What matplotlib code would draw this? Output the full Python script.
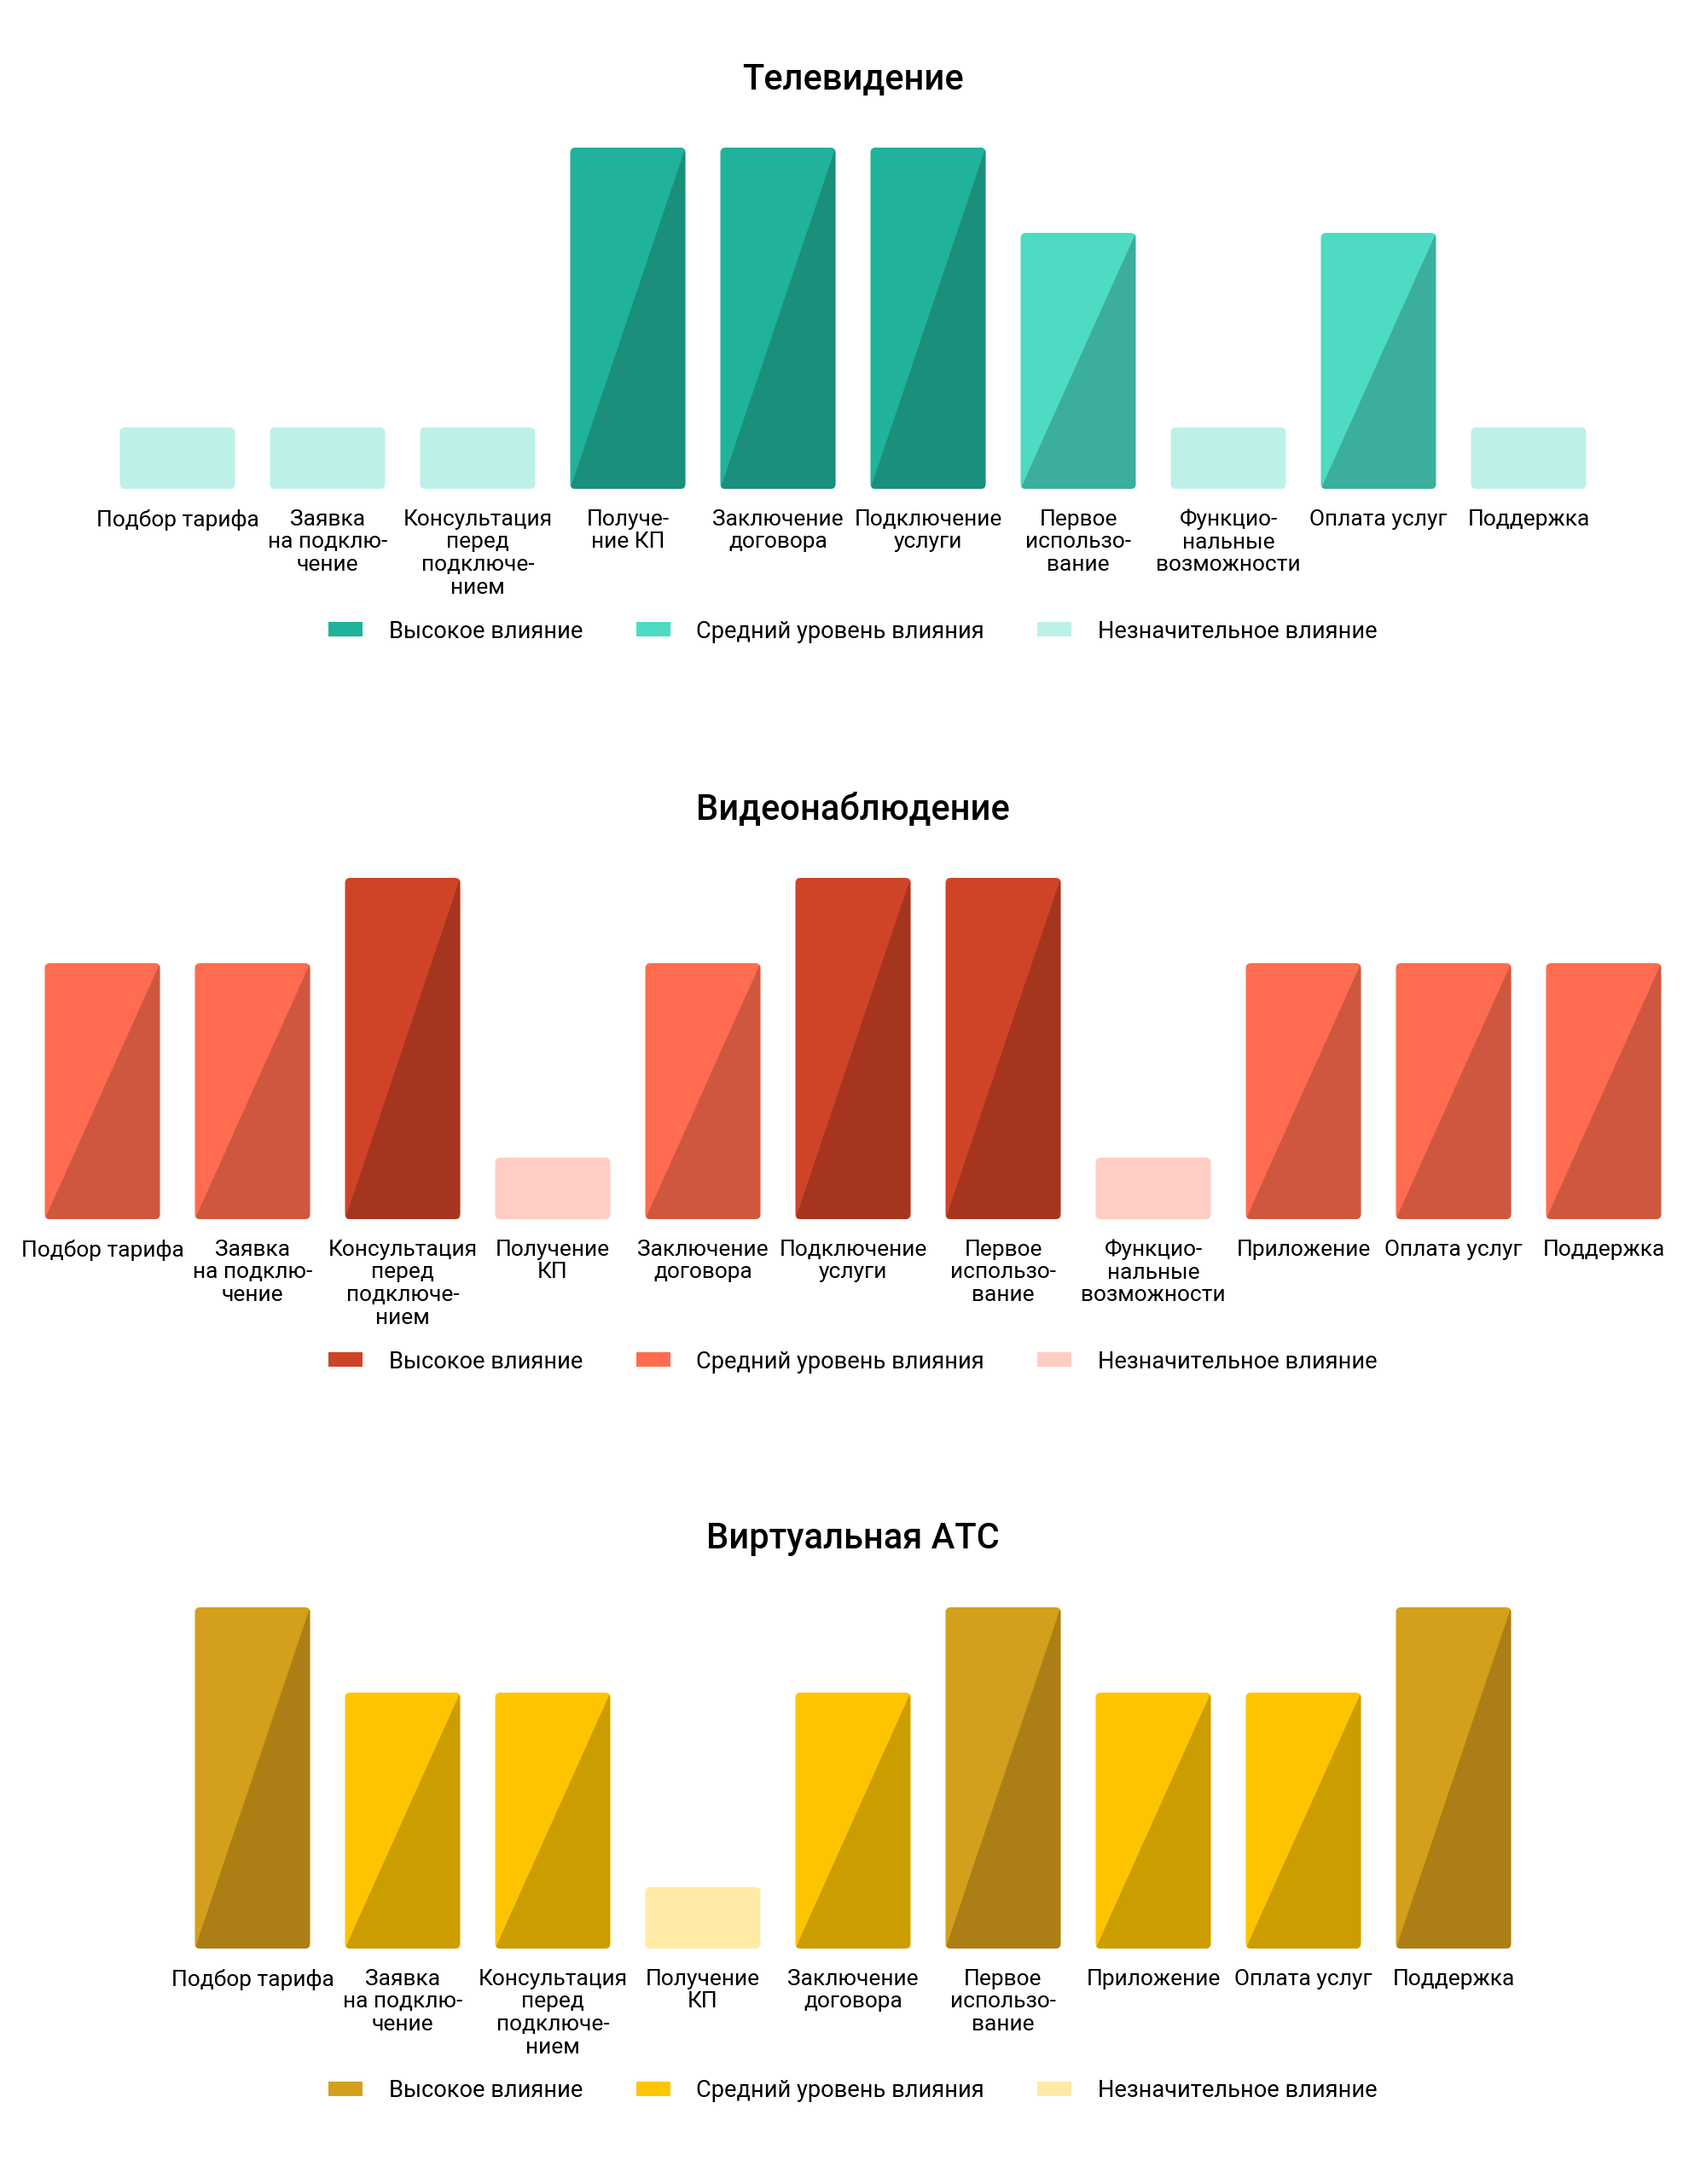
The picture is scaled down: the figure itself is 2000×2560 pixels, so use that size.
import numpy as np
import matplotlib
matplotlib.use("Agg")
import matplotlib.pyplot as plt
from matplotlib.patches import FancyBboxPatch, Polygon, Patch

plt.rcParams['font.family'] = ['Roboto', 'DejaVu Sans']

# --- data -------------------------------------------------------------
legend_labels = ["Высокое влияние", "Средний уровень влияния", "Незначительное влияние"]
impact_height = {"high": 100, "medium": 75, "low": 18}

tv_title = "Телевидение"
tv_categories = ["Подбор тарифа", "Заявка\nна подклю-\nчение",
                 "Консультация\nперед\nподключе-\nнием", "Получе-\nние КП",
                 "Заключение\nдоговора", "Подключение\nуслуги",
                 "Первое\nиспользо-\nвание", "Функцио-\nнальные\nвозможности",
                 "Оплата услуг", "Поддержка"]
tv_levels = ["low", "low", "low", "high", "high", "high",
             "medium", "low", "medium", "low"]

video_title = "Видеонаблюдение"
video_categories = ["Подбор тарифа", "Заявка\nна подклю-\nчение",
                    "Консультация\nперед\nподключе-\nнием", "Получение\nКП",
                    "Заключение\nдоговора", "Подключение\nуслуги",
                    "Первое\nиспользо-\nвание", "Функцио-\nнальные\nвозможности",
                    "Приложение", "Оплата услуг", "Поддержка"]
video_levels = ["medium", "medium", "high", "low", "medium", "high",
                "high", "low", "medium", "medium", "medium"]

vats_title = "Виртуальная АТС"
vats_categories = ["Подбор тарифа", "Заявка\nна подклю-\nчение",
                   "Консультация\nперед\nподключе-\nнием", "Получение\nКП",
                   "Заключение\nдоговора", "Первое\nиспользо-\nвание",
                   "Приложение", "Оплата услуг", "Поддержка"]
vats_levels = ["high", "medium", "medium", "low", "medium", "high",
               "medium", "medium", "high"]

# --- styles -----------------------------------------------------------
tv_colors = {"high": ("#20B29A", "#1A8F7B"),
             "medium": ("#4DDBC4", "#3BAF9B"),
             "low": ("#BDF1E8", None)}
video_colors = {"high": ("#CF4427", "#A6351F"),
                "medium": ("#FF6C4F", "#CF573F"),
                "low": ("#FFCDC3", None)}
vats_colors = {"high": ("#D49F1C", "#AB7F15"),
               "medium": ("#FFC400", "#CC9D00"),
               "low": ("#FFEAA6", None)}

W, H = 2000, 2560
STEP = 176          # px between bar centres
BAR_PX = 135        # bar width in px
AX_H = 400          # px for value 0..100
FS = 19
LEG_FS = 19.6

fig = plt.figure(figsize=(W / 100, H / 100), dpi=100)


def panel(bottom_px, title, categories, levels, colors):
    ax = fig.add_axes([0, bottom_px / H, 1, AX_H / H])
    n = len(categories)
    x = np.arange(n)
    half = (W / 2) / STEP
    ax.set_xlim((n - 1) / 2 - half, (n - 1) / 2 + half)
    ax.set_ylim(0, 100)
    heights = [impact_height[lv] for lv in levels]
    light = [colors[lv][0] for lv in levels]
    bars = ax.bar(x, heights, width=BAR_PX / STEP, color=light, linewidth=0)

    aspect = STEP / (AX_H / 100)
    r = 6 / STEP
    for rect, lv in zip(bars, levels):
        x0, y0 = rect.get_x(), rect.get_y()
        w, h = rect.get_width(), rect.get_height()
        box = FancyBboxPatch((x0, y0), w, h,
                             boxstyle=f"round,pad=0,rounding_size={r}",
                             mutation_aspect=aspect,
                             fc=colors[lv][0], ec="none")
        ax.add_patch(box)
        dark = colors[lv][1]
        if dark:
            tri = Polygon([(x0, y0), (x0 + w, y0 + h), (x0 + w, y0)],
                          closed=True, fc=dark, ec="none")
            ax.add_patch(tri)
            tri.set_clip_path(box)
        rect.remove()

    ax.set_xticks(x, categories, fontsize=FS, linespacing=1.14)
    ax.tick_params(axis="x", length=0, pad=17)
    ax.set_yticks([])
    for s in ax.spines.values():
        s.set_visible(False)
    ax.patch.set_alpha(0)

    ax.text(0.5, 1 + 80 / AX_H, title, transform=ax.transAxes,
            ha="center", va="center", fontsize=30, fontweight="medium")

    fpx = LEG_FS * 100 / 72
    handles = [Patch(fc=colors[k][0], ec="none") for k in ("high", "medium", "low")]
    ax.legend(handles, legend_labels, loc="center", ncol=3,
              bbox_to_anchor=(0.5, -167 / AX_H), frameon=False, fontsize=LEG_FS,
              handlelength=40 / fpx, handleheight=16 / fpx,
              handletextpad=31 / fpx, columnspacing=62 / fpx)


panel(H - 573, tv_title, tv_categories, tv_levels, tv_colors)
panel(H - 1429, video_title, video_categories, video_levels, video_colors)
panel(H - 2284, vats_title, vats_categories, vats_levels, vats_colors)

fig.savefig("out.png", dpi=100, facecolor="white")
